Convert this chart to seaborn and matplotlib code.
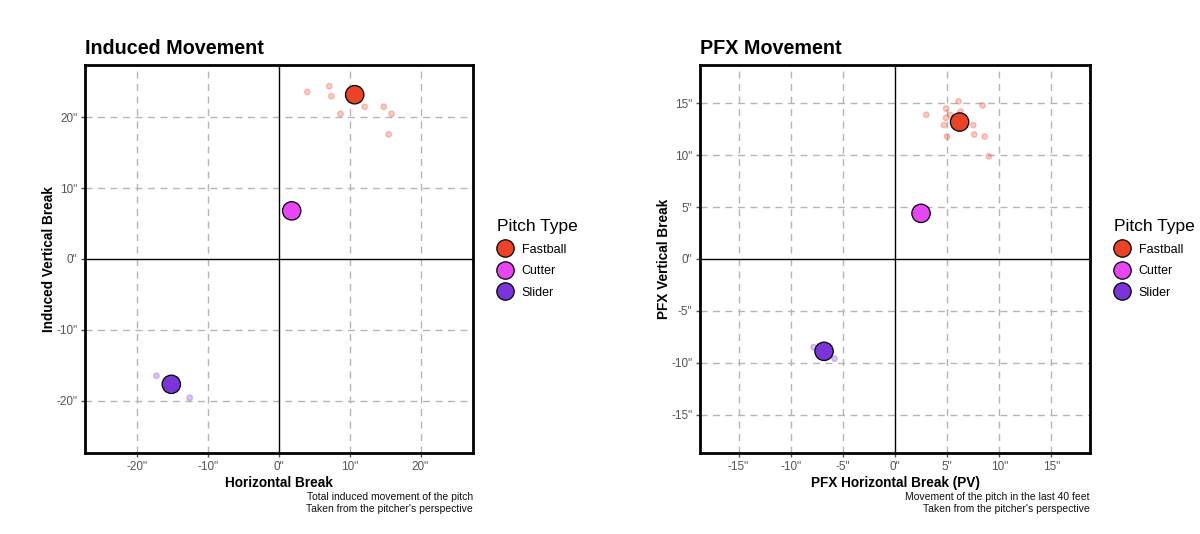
import numpy as np
import pandas as pd
import seaborn as sns
import matplotlib.pyplot as plt
import matplotlib.ticker as mticker
from matplotlib.lines import Line2D

sns.set_style("white")
plt.rcParams['font.family'] = ['Liberation Sans', 'DejaVu Sans']
plt.rcParams['text.color'] = 'black'
plt.rcParams['axes.labelcolor'] = 'black'

pitch_types = ['Fastball', 'Cutter', 'Slider']
pitch_colors = ['#EB4327', '#E647F2', '#7A34D8']

# --- Induced movement (inches) ---
ind_fb_x = [4.0, 7.1, 7.4, 8.7, 12.1, 14.8, 15.9, 15.5]
ind_fb_y = [23.6, 24.4, 23.0, 20.5, 21.5, 21.5, 20.5, 17.6]
ind_ct_x = [1.8]
ind_ct_y = [6.8]
ind_sl_x = [-17.3, -12.6]
ind_sl_y = [-16.5, -19.6]
ind_avg_x = [10.7, 1.8, -15.2]
ind_avg_y = [23.2, 6.8, -17.7]

# --- PFX movement (inches) ---
pfx_fb_x = [3.0, 4.9, 5.3, 6.1, 6.3, 8.4, 4.7, 5.0, 7.5, 7.6, 8.6, 9.0, 4.9]
pfx_fb_y = [13.9, 14.5, 13.9, 15.2, 14.2, 14.8, 12.9, 11.8, 12.9, 12.0, 11.8, 9.9, 13.6]
pfx_ct_x = [2.5]
pfx_ct_y = [4.4]
pfx_sl_x = [-7.8, -5.8]
pfx_sl_y = [-8.5, -9.6]
pfx_avg_x = [6.2, 2.5, -6.8]
pfx_avg_y = [13.2, 4.4, -8.9]

ind_ticks = [-20, -10, 0, 10, 20]
pfx_ticks = [-15, -10, -5, 0, 5, 10, 15]


def pitches_df(fb_x, fb_y, ct_x, ct_y, sl_x, sl_y):
    return pd.DataFrame({
        'x': fb_x + ct_x + sl_x,
        'y': fb_y + ct_y + sl_y,
        'pitch': ['Fastball'] * len(fb_x) + ['Cutter'] * len(ct_x) + ['Slider'] * len(sl_x),
    })


def draw_panel(ax, df, avg_x, avg_y, ticks, lim, title, xlabel, ylabel, caption):
    palette = dict(zip(pitch_types, pitch_colors))
    for t in ticks:
        if t != 0:
            ax.axvline(t, color='#b5b5b5', lw=1, ls=(0, (5, 4)), zorder=0)
            ax.axhline(t, color='#b5b5b5', lw=1, ls=(0, (5, 4)), zorder=0)
    ax.axvline(0, color='black', lw=1, zorder=1)
    ax.axhline(0, color='black', lw=1, zorder=1)

    sns.scatterplot(data=df, x='x', y='y', hue='pitch', palette=palette, ax=ax,
                    s=16, alpha=0.28, edgecolor=df['pitch'].map(palette), linewidth=1,
                    legend=False, zorder=2)
    avg = pd.DataFrame({'x': avg_x, 'y': avg_y, 'pitch': pitch_types})
    sns.scatterplot(data=avg, x='x', y='y', hue='pitch', palette=palette, ax=ax,
                    s=175, edgecolor='black', linewidth=0.9, legend=False, zorder=3)

    ax.set_xlim(-lim, lim)
    ax.set_ylim(-lim, lim)
    ax.set_xticks(ticks)
    ax.set_yticks(ticks)
    fmt = mticker.FuncFormatter(lambda v, p: f'{v:.0f}"')
    ax.xaxis.set_major_formatter(fmt)
    ax.yaxis.set_major_formatter(fmt)
    ax.tick_params(axis='both', length=3, width=1, color='#555555', labelsize=8.5,
                   labelcolor='#555555', pad=2.5, bottom=True, left=True)
    for sp in ax.spines.values():
        sp.set_visible(True)
        sp.set_color('black')
        sp.set_linewidth(2)

    ax.set_title(title, loc='left', fontsize=14.2, fontweight='bold', pad=8, x=0.0)
    ax.set_xlabel(xlabel, fontsize=9.8, fontweight='bold', labelpad=2.5)
    ax.set_ylabel(ylabel, fontsize=9.8, fontweight='bold', labelpad=0)
    ax.text(1.0, -0.1, caption, transform=ax.transAxes, ha='right', va='top',
            fontsize=7.5, color='#111111', linespacing=1.25)

    handles = [Line2D([], [], marker='o', ls='', markersize=12.5, markerfacecolor=c,
                      markeredgecolor='black', markeredgewidth=0.9)
               for c in pitch_colors]
    leg = ax.legend(handles, pitch_types, title='Pitch Type', loc='center left',
                    bbox_to_anchor=(1.048, 0.50), frameon=False, fontsize=9,
                    title_fontsize=12.5, handletextpad=0.6, labelspacing=0.75,
                    borderaxespad=0, handlelength=1.4)
    leg._legend_box.align = 'left'


fig = plt.figure(figsize=(12, 5.34), dpi=100)
ax1 = fig.add_axes([0.0708, 0.1517, 0.3233, 0.7266])
ax2 = fig.add_axes([0.5833, 0.1517, 0.325, 0.7266])

draw_panel(ax1, pitches_df(ind_fb_x, ind_fb_y, ind_ct_x, ind_ct_y, ind_sl_x, ind_sl_y),
           ind_avg_x, ind_avg_y, ind_ticks, 27.4, 'Induced Movement',
           'Horizontal Break', 'Induced Vertical Break',
           "Total induced movement of the pitch\nTaken from the pitcher's perspective")
draw_panel(ax2, pitches_df(pfx_fb_x, pfx_fb_y, pfx_ct_x, pfx_ct_y, pfx_sl_x, pfx_sl_y),
           pfx_avg_x, pfx_avg_y, pfx_ticks, 18.7, 'PFX Movement',
           'PFX Horizontal Break (PV)', 'PFX Vertical Break',
           "Movement of the pitch in the last 40 feet\nTaken from the pitcher's perspective")

fig.savefig('out.png', dpi=100)
